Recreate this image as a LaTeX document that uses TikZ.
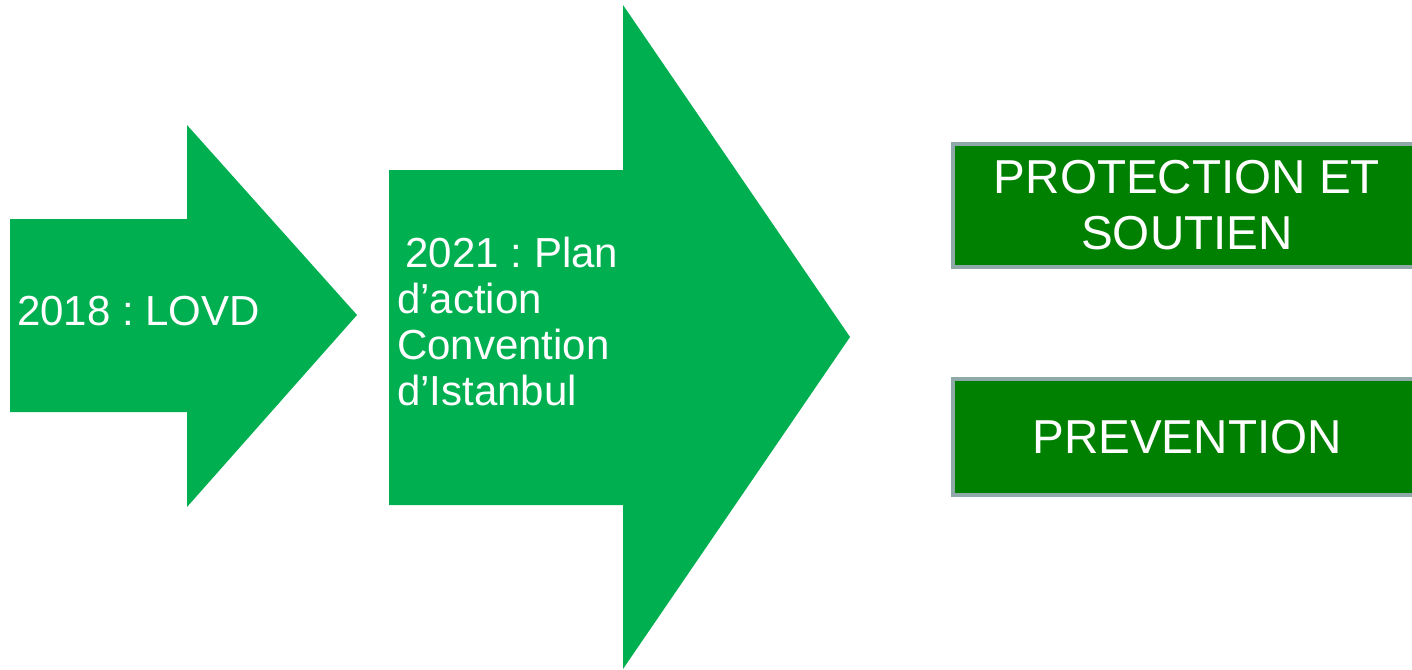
\documentclass[tikz,border=0pt]{standalone}
\usepackage{fontspec}
\setmainfont{Liberation Sans}
\usepackage{xcolor}
\usepackage{tikz}
\usetikzlibrary{positioning}
\frenchspacing

\definecolor{arrowgreen}{RGB}{0,176,80}
\definecolor{boxgreen}{RGB}{0,128,0}
\definecolor{boxgray}{RGB}{143,168,168}

\tikzset{
  arrowtext/.style={text=white, inner sep=0pt, font=\fontsize{42}{46}\selectfont},
  goalbox/.style={draw=boxgray, line width=4pt, fill=boxgreen, text=white,
    minimum width=469pt, align=center, font=\fontsize{47.6}{56}\selectfont}
}

\begin{document}
\begin{tikzpicture}[x=1pt, y=-1pt]
\useasboundingbox (0,0) rectangle (1412,669);

% arrows
\fill[arrowgreen] (10,219) -- (187,219) -- (187,125) -- (357,315) -- (187,507) -- (187,412) -- (10,412) -- cycle;
\fill[arrowgreen] (389,170) -- (623,170) -- (623,5) -- (850,337) -- (623,669) -- (623,505) -- (389,505) -- cycle;

% arrow texts
\node[arrowtext, anchor=base west] (lovd) at (17,325) {2018 : LOVD};
\node[arrowtext, anchor=north west, align=left] (plan) at (397,237)
  {\hspace*{0.2em}2021 : Plan\\d’action\\Convention\\d’Istanbul};

% boxes
\node[goalbox, minimum height=123pt] (protection) at (1187,205.5) {PROTECTION ET\\SOUTIEN};
\node[goalbox, minimum height=116pt] (prevention) at (1187,437) {PREVENTION};
\end{tikzpicture}
\end{document}
